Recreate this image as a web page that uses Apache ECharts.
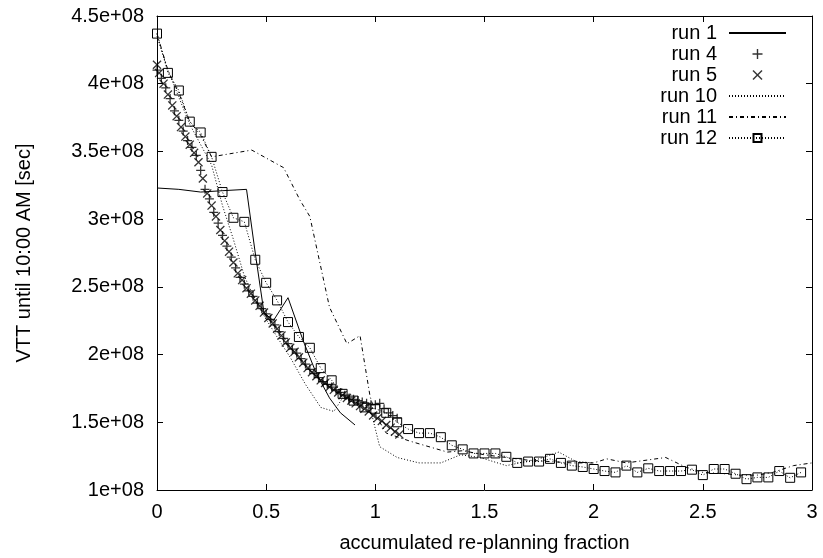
<!DOCTYPE html>
<html>
<head>
<meta charset="utf-8">
<script src="https://cdn.jsdelivr.net/npm/echarts@6/dist/echarts.min.js"></script>
<style>
  html, body { margin: 0; padding: 0; background: #fff; }
  #chart { width: 823px; height: 558px; }
</style>
</head>
<body>
<div id="chart"></div>
<script>
// 轴刻度 (y 以 1e8 为单位)
const xTicks = [0, 0.5, 1, 1.5, 2, 2.5, 3]
const yTicks = [1, 1.5, 2, 2.5, 3, 3.5, 4, 4.5]

// run 1 实线
const run1 = [[0, 3.23], [0.1, 3.22], [0.2, 3.2], [0.3, 3.21], [0.41, 3.22], [0.45, 2.75], [0.49, 2.31],
  [0.533, 2.25], [0.6, 2.42], [0.67, 2.1], [0.73, 1.86], [0.79, 1.68], [0.84, 1.57], [0.907, 1.48]]

// run 4 (+)
const run4 = [[0, 4.10], [0.02, 4.04], [0.04, 3.97], [0.06, 3.89], [0.08, 3.80], [0.10, 3.73], [0.12, 3.65],
  [0.14, 3.58], [0.16, 3.53], [0.18, 3.47], [0.20, 3.36], [0.22, 3.22], [0.24, 3.15], [0.26, 3.05],
  [0.28, 2.97], [0.30, 2.88], [0.32, 2.80], [0.34, 2.72], [0.36, 2.64], [0.38, 2.57], [0.40, 2.52],
  [0.42, 2.47], [0.44, 2.43], [0.46, 2.38], [0.48, 2.34], [0.50, 2.30], [0.52, 2.26], [0.54, 2.22],
  [0.56, 2.17], [0.58, 2.12], [0.60, 2.08], [0.62, 2.04], [0.64, 2.01], [0.66, 1.97], [0.68, 1.93],
  [0.70, 1.89], [0.72, 1.86], [0.74, 1.83], [0.76, 1.80], [0.78, 1.78], [0.80, 1.76], [0.82, 1.74],
  [0.84, 1.72], [0.86, 1.70], [0.88, 1.68], [0.90, 1.67], [0.92, 1.66], [0.94, 1.65], [0.96, 1.64],
  [0.98, 1.63], [1.00, 1.63], [1.02, 1.64], [1.04, 1.60], [1.06, 1.57], [1.08, 1.55], [1.10, 1.53]]

// run 5 (x)
const run5 = [[0, 4.14], [0.01, 4.08], [0.03, 4.00], [0.05, 3.92], [0.07, 3.84], [0.09, 3.76], [0.11, 3.68],
  [0.13, 3.61], [0.15, 3.55], [0.17, 3.49], [0.19, 3.42], [0.21, 3.30], [0.23, 3.19], [0.25, 3.10],
  [0.27, 3.02], [0.29, 2.92], [0.31, 2.84], [0.33, 2.76], [0.35, 2.68], [0.37, 2.60], [0.39, 2.55],
  [0.41, 2.49], [0.43, 2.45], [0.45, 2.40], [0.47, 2.36], [0.49, 2.31], [0.51, 2.27], [0.53, 2.23],
  [0.55, 2.19], [0.57, 2.14], [0.59, 2.09], [0.61, 2.05], [0.63, 2.02], [0.65, 1.98], [0.67, 1.94],
  [0.69, 1.90], [0.71, 1.87], [0.73, 1.84], [0.75, 1.81], [0.77, 1.79], [0.79, 1.76], [0.81, 1.74],
  [0.83, 1.72], [0.85, 1.70], [0.87, 1.68], [0.89, 1.66], [0.91, 1.64], [0.93, 1.62], [0.95, 1.60],
  [0.97, 1.58], [0.99, 1.55], [1.01, 1.53], [1.03, 1.51], [1.05, 1.48], [1.07, 1.46], [1.09, 1.43],
  [1.11, 1.41]]

// run 10 点线
const run10 = [[0, 4.35], [0.05, 4.1], [0.1, 3.9], [0.15, 3.7], [0.2, 3.55], [0.25, 3.4], [0.3, 3.1],
  [0.35, 2.85], [0.4, 2.58], [0.45, 2.4], [0.5, 2.26], [0.55, 2.13], [0.61, 1.98], [0.68, 1.78],
  [0.75, 1.61], [0.81, 1.58], [0.85, 1.68], [0.9, 1.65], [0.96, 1.62], [0.985, 1.55], [1.02, 1.32],
  [1.1, 1.24], [1.2, 1.2], [1.3, 1.2], [1.39, 1.26], [1.48, 1.24], [1.6, 1.18], [1.75, 1.23],
  [1.84, 1.28], [1.92, 1.21], [2.0, 1.2]]

// run 11 点划线
const run11 = [[0, 4.37], [0.05, 4.1], [0.1, 3.93], [0.15, 3.72], [0.2, 3.62], [0.25, 3.46], [0.434, 3.51],
  [0.58, 3.38], [0.655, 3.14], [0.70, 3.02], [0.79, 2.35], [0.87, 2.08], [0.93, 2.14], [0.976, 1.69],
  [1.006, 1.54], [1.05, 1.42], [1.16, 1.36], [1.33, 1.28], [1.4, 1.29], [1.5, 1.26], [1.6, 1.24],
  [1.7, 1.22], [1.8, 1.21], [1.9, 1.2], [2.0, 1.2], [2.06, 1.23], [2.15, 1.2], [2.33, 1.24],
  [2.42, 1.17], [2.5, 1.13], [2.6, 1.12], [2.67, 1.11], [2.75, 1.11], [2.82, 1.13], [2.915, 1.18],
  [3.0, 1.2]]

// run 12 方块 + 点线
const run12 = [[0, 4.37], [0.05, 4.08], [0.10, 3.95], [0.15, 3.72], [0.20, 3.64], [0.25, 3.46], [0.30, 3.20],
  [0.35, 3.01], [0.40, 2.98], [0.45, 2.70], [0.50, 2.53], [0.55, 2.40], [0.60, 2.24], [0.65, 2.13],
  [0.70, 2.05], [0.75, 1.90], [0.80, 1.81], [0.85, 1.71], [0.90, 1.66], [0.95, 1.61], [1.00, 1.60],
  [1.05, 1.57], [1.10, 1.50], [1.15, 1.45], [1.20, 1.42], [1.25, 1.42], [1.30, 1.39], [1.35, 1.33],
  [1.40, 1.30], [1.45, 1.27], [1.50, 1.27], [1.55, 1.27], [1.60, 1.245], [1.65, 1.20], [1.70, 1.21],
  [1.75, 1.21], [1.80, 1.23], [1.85, 1.20], [1.90, 1.18], [1.95, 1.17], [2.00, 1.155], [2.05, 1.14],
  [2.10, 1.13], [2.15, 1.18], [2.20, 1.13], [2.25, 1.16], [2.30, 1.14], [2.35, 1.14], [2.40, 1.14],
  [2.45, 1.15], [2.50, 1.11], [2.55, 1.155], [2.60, 1.155], [2.65, 1.12], [2.70, 1.08], [2.75, 1.093],
  [2.80, 1.093], [2.85, 1.14], [2.90, 1.09], [2.95, 1.13]]

const FONT = '"Liberation Sans", Arial, Helvetica, sans-serif'
const PLUS = 'path://M4.3,0H5.7V4.3H10V5.7H5.7V10H4.3V5.7H0V4.3H4.3Z'
const CROSS = 'path://M0,1L1,0L5,4L9,0L10,1L6,5L10,9L9,10L5,6L1,10L0,9L4,5Z'

function baseAxis(extra) { // 公共坐标轴样式
  return Object.assign({
    type: 'value',
    axisLine: { show: true, onZero: false, lineStyle: { color: '#000', width: 1 } },
    axisTick: { show: true, inside: true, length: 6, lineStyle: { color: '#000', width: 1 } },
    splitLine: { show: false },
    axisLabel: { color: '#000', fontSize: 20, fontFamily: FONT },
    nameTextStyle: { color: '#000', fontSize: 20, fontFamily: FONT }
  }, extra)
}

const xRange = { min: xTicks[0], max: xTicks[xTicks.length - 1], interval: xTicks[1] - xTicks[0] }
const yRange = { min: yTicks[0], max: yTicks[yTicks.length - 1], interval: yTicks[1] - yTicks[0] }
const noDot = { opacity: 0 } // 图例里的线条不画圆点

let option = {
  animation: false,
  backgroundColor: '#fff',
  grid: { left: 157, right: 11, top: 16, bottom: 68, containLabel: false },
  legend: {
    orient: 'vertical',
    align: 'right',
    right: 36,
    top: 23,
    padding: 0,
    itemWidth: 57,
    itemHeight: 10,
    itemGap: 1,
    textStyle: { color: '#000', fontSize: 20, fontFamily: FONT, lineHeight: 20, padding: [0, 7, 0, 0] },
    data: [
      { name: 'run 1', itemStyle: noDot },
      'run 4',
      'run 5',
      { name: 'run 10', itemStyle: noDot },
      { name: 'run 11', itemStyle: noDot },
      'run 12'
    ]
  },
  xAxis: [
    baseAxis(Object.assign({
      position: 'bottom',
      name: 'accumulated re-planning fraction',
      nameLocation: 'middle',
      nameGap: 43,
      axisLabel: { color: '#000', fontSize: 20, fontFamily: FONT, margin: 12 }
    }, xRange)),
    baseAxis(Object.assign({ position: 'top', axisLabel: { show: false } }, xRange))
  ],
  yAxis: [
    baseAxis(Object.assign({
      position: 'left',
      name: 'VTT until 10:00 AM [sec]',
      nameLocation: 'middle',
      nameGap: 123,
      axisLabel: {
        color: '#000', fontSize: 20, fontFamily: FONT, margin: 13,
        formatter: v => v + 'e+08'
      }
    }, yRange)),
    baseAxis(Object.assign({ position: 'right', axisLabel: { show: false } }, yRange))
  ],
  series: [
    {
      name: 'run 1', type: 'line', data: run1, symbol: 'none',
      lineStyle: { color: '#000', width: 1 }, itemStyle: { color: '#000' }
    },
    {
      name: 'run 4', type: 'scatter', data: run4, symbol: PLUS, symbolSize: 9,
      itemStyle: { color: '#000' }
    },
    {
      name: 'run 5', type: 'scatter', data: run5, symbol: CROSS, symbolSize: 9,
      itemStyle: { color: '#000' }
    },
    {
      name: 'run 10', type: 'line', data: run10, symbol: 'none',
      lineStyle: { color: '#000', width: 1, type: [1, 2] }, itemStyle: { color: '#000' }
    },
    {
      name: 'run 11', type: 'line', data: run11, symbol: 'none',
      lineStyle: { color: '#000', width: 1, type: [4, 3, 1, 3] }, itemStyle: { color: '#000' }
    },
    {
      name: 'run 12', type: 'line', data: run12, symbol: 'rect', symbolSize: 9, showAllSymbol: true,
      lineStyle: { color: '#000', width: 1, type: [1, 2] },
      itemStyle: { color: 'rgba(0,0,0,0)', borderColor: '#000', borderWidth: 1 }
    }
  ]
}

let chart = echarts.init(document.getElementById('chart'), null, { renderer: 'canvas' })
chart.setOption(option)
</script>
</body>
</html>
